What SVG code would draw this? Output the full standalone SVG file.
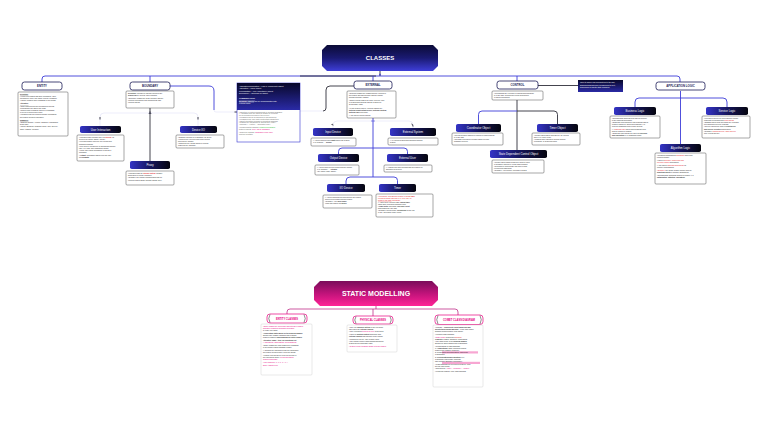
<svg xmlns="http://www.w3.org/2000/svg" width="768" height="431" viewBox="0 0 768 431">
<defs>
<linearGradient id="gHead" x1="0" y1="0" x2="0" y2="1"><stop offset="0" stop-color="#0b0b36"/><stop offset="0.5" stop-color="#1a1a72"/><stop offset="1" stop-color="#3e3ed8"/></linearGradient>
<linearGradient id="gNode" x1="0" y1="0" x2="1" y2="0"><stop offset="0" stop-color="#3434c6"/><stop offset="0.5" stop-color="#16165e"/><stop offset="1" stop-color="#05050f"/></linearGradient>
<linearGradient id="gPink" x1="0" y1="0" x2="0" y2="1"><stop offset="0" stop-color="#7a0c5a"/><stop offset="0.5" stop-color="#c0137a"/><stop offset="1" stop-color="#ff2196"/></linearGradient>
<linearGradient id="gNote" x1="0" y1="0" x2="0" y2="1"><stop offset="0" stop-color="#08082a"/><stop offset="1" stop-color="#2a2aa6"/></linearGradient>
</defs>
<style>
text{font-family:"Liberation Sans",Arial,sans-serif}
.h{font-size:6px;font-weight:bold;fill:#fff;text-anchor:middle}
.h7{font-size:7px;font-weight:bold;fill:#fff;text-anchor:middle}
.l1{fill:#fff;stroke:#1b1b55;stroke-width:0.8}
.l1t{font-size:2.8px;font-weight:bold;fill:#1b1b55;text-anchor:middle}
.n{fill:url(#gNode)}
.nt{font-size:2.8px;fill:#fff;text-anchor:middle}
.bd{fill:#fff;stroke:#3a3a3a;stroke-width:0.45}
.bs{fill:#fff;stroke:#c4c4c4;stroke-width:0.4}
.b{font-size:1.7px;fill:#2a2a2a}
.bw{font-size:1.8px;fill:#fff}
.bn{font-size:1.7px;fill:#fff}
.bg{font-size:1.7px;fill:#666}
.r{fill:#e3161b}
.p{fill:#e6007e}
.g{fill:#2db52d}
.k{font-weight:bold}
.u{text-decoration:underline}
.cb{fill:none;stroke:#3c3cd8;stroke-width:0.9}
.cd{fill:none;stroke:#2f2f3a;stroke-width:0.9}
.cf{fill:none;stroke:#d2d2f2;stroke-width:0.4}
.cp{fill:none;stroke:#b8137a;stroke-width:0.7}
.sl{fill:#fff;stroke:#e6007e;stroke-width:0.7}
.st{font-size:2.6px;font-weight:bold;fill:#e6007e;text-anchor:middle}
.br{fill:none;stroke:#222;stroke-width:0.5}
</style>
<rect width="768" height="431" fill="#fff"/>

<g id="connectors">
<path class="cb" d="M42,82 V79 Q42,76 45,76 H677 Q680,76 680,79 V82"/>
<path class="cd" d="M300,76 H376"/>
<path class="cb" d="M150,76 V82 M373,76 V81 M517,76 V81"/>
<path class="cd" d="M380,71 V76"/>
<polygon points="378.8,75.2 380,73.2 381.2,75.2" fill="#3c3cd8"/>
<path class="cd" d="M150,108 V161"/>
<polygon points="148.5,114 150,111 151.5,114" fill="#2f2f3a"/>
<path class="cb" d="M170,86 H209 Q214,86 214,91 V110"/>
<path class="cf" d="M214,110 Q214,112 216,112 H237"/>
<path class="cd" d="M234.5,112 H237.5"/>
<path class="cf" d="M150,113 H104 Q100,113 100,117 V126 M150,113 H194 Q198,113 198,117 V126"/>
<path class="cd" d="M100,117 V119.5 M198,117 V119.5"/>
<path class="cd" d="M354,86 H330 Q326,86 326,90 V108 Q326,111 323,111"/>
<path class="cf" d="M323,111 H300"/>
<path class="cb" d="M373,117 V177"/>
<path class="cb" d="M371.3,121 H374.7"/>
<path class="cf" d="M373,121 H337 Q333,121 333,125 V128 M373,121 H409 Q413,121 413,125 V128"/>
<path class="cd" d="M331.5,124.5 Q333,123.5 333,125.5 M411.5,124 Q413,124 413,126.5"/>
<path class="cb" d="M373,148 H342 Q338.5,148 338.5,151.5 V154 M373,148 H404 Q407.5,148 407.5,151.5 V154"/>
<path class="cb" d="M373,177 H350 Q346,177 346,181 V184 M373,177 H394 Q397.5,177 397.5,180.5 V184"/>
<path class="cd" d="M517,100 V150"/>
<path class="cb" d="M517,111 H482 Q478.5,111 478.5,114.5 V124"/>
<path class="cd" d="M517,111 H554 Q557.5,111 557.5,114.5 V124"/>
<path class="cd" d="M538,85.5 H578"/>
<path class="cb" d="M680.5,91 V144"/>
<path class="cb" d="M680.5,98 H639 Q635,98 635,102 V107 M680.5,98 H723 Q727,98 727,102 V107"/>
<path class="cp" d="M376,306 V309 M287,314 V312 Q287,309 290,309 H455 Q458,309 458,312 V315 M373,309 V316"/>
</g>

<g id="n-classes"><polygon points="327,45 433,45 438,50 438,66 433,71 327,71 322,66 322,50" fill="url(#gHead)"/><text class="h" x="380" y="60">CLASSES</text></g>

<g id="n-entity">
<rect class="l1" x="22" y="82" width="40" height="8" rx="2.5"/><text class="l1t" x="42" y="87">ENTITY</text>
<rect class="bd" x="18" y="92" width="50" height="44" rx="1"/>
<text class="b" x="20" y="94.5"><tspan class="k u">Definition:</tspan>
<tspan x="20" dy="2.2">• Long-lived classes that store information, often</tspan>
<tspan x="20" dy="2.2">  accessed by many use cases, typically persistent</tspan>
<tspan x="20" dy="2.2">• Usually mapped onto a database in the design</tspan>
<tspan x="20" dy="3.2" class="k u">Attributes:</tspan>
<tspan x="20" dy="2.2">• Store data and provide operations to access</tspan>
<tspan x="20" dy="2.2">  (read/update) the data in the class</tspan>
<tspan x="20" dy="2.2">• Data is often persistent: stored in a database</tspan>
<tspan x="20" dy="2.2">  or file for a long period of time</tspan>
<tspan x="20" dy="2.2">• Identified from the problem domain (information</tspan>
<tspan x="20" dy="2.2">  the system needs to remember)</tspan>
<tspan x="20" dy="3.2" class="k u">Examples:</tspan>
<tspan x="20" dy="2.2">• Banking System: Account, Customer, Transaction,</tspan>
<tspan x="20" dy="2.2">  Debit Card</tspan>
<tspan x="20" dy="2.2">• Online Shopping: Customer Order, Item, Delivery</tspan>
<tspan x="20" dy="2.2">  Order, Catalog, Inventory</tspan></text>
</g>

<g id="n-boundary">
<rect class="l1" x="130" y="82" width="40" height="8" rx="2.5"/><text class="l1t" x="150" y="87">BOUNDARY</text>
<rect class="bd" x="126" y="91" width="48" height="17" rx="1"/>
<text class="b" x="128" y="94"><tspan class="k u">Definition:</tspan> Interface to objects external to the
<tspan x="128" dy="2.3">  system (users, devices, other systems)</tspan>
<tspan x="128" dy="2.3">• Boundary classes are at the interface with the</tspan>
<tspan x="128" dy="2.3">  external environment and communicate with</tspan>
<tspan x="128" dy="2.3">  external objects</tspan></text>
</g>

<g id="n-user-interaction">
<rect class="n" x="80" y="126" width="41" height="7" rx="1.8"/><text class="nt" x="100.5" y="130.5">User Interaction</text>
<rect class="bd" x="77" y="135" width="47" height="26" rx="1"/>
<text class="b" x="79" y="138">• Interfaces with a human user via <tspan class="r k">external</tspan> I/O
<tspan x="79" dy="2.2">  devices (keyboard, display, mouse)</tspan>
<tspan x="79" dy="2.2">• Provides display screens, text, menus and</tspan>
<tspan x="79" dy="2.2">  graphical windows</tspan>
<tspan x="79" dy="2.2">• May involve a sequence of interactions with the</tspan>
<tspan x="79" dy="2.2">  user, e.g. login, then transaction details</tspan>
<tspan x="79" dy="2.2">• Input: user enters information or selects a</tspan>
<tspan x="79" dy="2.2">  command</tspan>
<tspan x="79" dy="2.2">• <tspan class="k">Output:</tspan> information displayed to the user</tspan>
<tspan x="79" dy="2.2">  and <tspan class="k">prompts</tspan></tspan></text>
</g>

<g id="n-device-io">
<rect class="n" x="180" y="126" width="37" height="7" rx="1.8"/><text class="nt" x="198.5" y="130.5">Device I/O</text>
<rect class="bd" x="176" y="135" width="48" height="13" rx="1"/>
<text class="b" x="178" y="138">• Software interface to a hardware I/O device
<tspan x="178" dy="2.1">• Input device: receives input from external</tspan>
<tspan x="178" dy="2.1">  input device (sensor)</tspan>
<tspan x="178" dy="2.1">• Output device: sends output to external</tspan>
<tspan x="178" dy="2.1">  output device (actuator)</tspan></text>
</g>

<g id="n-proxy">
<rect class="n" x="130" y="161" width="40" height="8" rx="1.8"/><text class="nt" x="150" y="166">Proxy</text>
<rect class="bd" x="126" y="171" width="48" height="14" rx="1"/>
<text class="b" x="128" y="174">• Interfaces with an <tspan class="r k">external system</tspan> (another
<tspan x="128" dy="2.2">  subsystem or remote computer)</tspan>
<tspan x="128" dy="2.2">• Example: the system communicates with an</tspan>
<tspan x="128" dy="2.2">  external system (Bank) through a Bank Proxy</tspan></text>
</g>

<g id="n-relations">
<rect x="237" y="83" width="63" height="59" fill="#fff" stroke="#3535d0" stroke-width="0.6"/>
<rect x="237" y="83" width="63" height="27" fill="url(#gNote)"/>
<text class="bw" x="239" y="86.5">Aggregation/Composition – "Has a" (Whole/Part) Object
<tspan x="239" dy="2.5">Association – "Uses" Object</tspan>
<tspan x="239" dy="2.5">Generalisation – "Is a" (Inheritance) Object</tspan>
<tspan x="239" dy="2.5">Dependency – "Depends on" Object</tspan>
<tspan x="239" dy="5" class="u k">COMMUNICATION:</tspan>
<tspan x="239" dy="2.5"><tspan class="k u">Boundary objects</tspan> are for Communication with</tspan>
<tspan x="239" dy="2.5">external world</tspan></text>
<text class="bg" x="239" y="112.5">• Objects in a system communicate by sending messages
<tspan x="239" dy="1.8">• A message from one object to another is a request</tspan>
<tspan x="239" dy="1.8">  for an operation provided by the receiver</tspan>
<tspan x="239" dy="1.8">• Messages can be synchronous or asynchronous</tspan>
<tspan x="239" dy="1.8">• Messages may carry data (input/output parameters)</tspan>
<tspan x="239" dy="1.8">• Object interaction is shown in interaction diagrams</tspan>
<tspan x="239" dy="1.8">• Classes are categorised by stereotypes «entity»,</tspan>
<tspan x="239" dy="1.8">  «boundary», «control», «application logic»</tspan>
<tspan x="239" dy="3">• Communication diagram: <tspan class="g">numbered messages</tspan></tspan>
<tspan x="239" dy="2.2">  between objects, <tspan class="p">sync / async messages</tspan></tspan>
<tspan x="239" dy="2.2">• Sequence diagram: <tspan class="p">messages in time order</tspan></tspan>
<tspan x="239" dy="2.2">  from top to bottom</tspan></text>
</g>

<g id="n-external">
<rect class="l1" x="354" y="81" width="38" height="8" rx="2.5"/><text class="l1t" x="373" y="86">EXTERNAL</text>
<rect class="bd" x="347" y="91" width="49" height="27" rx="1"/>
<text class="b" x="349" y="93.5">• External classes are classes that are external to
<tspan x="349" dy="2.1">  the system and that interface with the system</tspan>
<tspan x="349" dy="2.1">  through boundary classes</tspan>
<tspan x="349" dy="3.3">• Each external class is an actor: a device, user</tspan>
<tspan x="349" dy="2.1">  or system that interacts with the system via</tspan>
<tspan x="349" dy="2.1">  its boundary class</tspan>
<tspan x="349" dy="3.3">• In the system context, external classes are:</tspan>
<tspan x="349" dy="2.1">  <tspan class="k">External Input/Output Device, External System,</tspan></tspan>
<tspan x="349" dy="2.1">  <tspan class="k">External User</tspan> and Timer</tspan>
<tspan x="349" dy="3.3">• Also called external objects</tspan></text>
</g>

<g id="n-input-device">
<rect class="n" x="313" y="128" width="40" height="8" rx="1.8"/><text class="nt" x="333" y="133">Input Device</text>
<rect class="bd" x="311" y="138" width="45" height="8" rx="1"/>
<text class="b" x="313" y="140.5">• A device that provides <tspan class="k">input</tspan> data to the system
<tspan x="313" dy="2.2">  (e.g. sensors) → <tspan class="k">Sensor</tspan></tspan></text>
</g>

<g id="n-external-system">
<rect class="n" x="390" y="128" width="46" height="8" rx="1.8"/><text class="nt" x="413" y="133">External System</text>
<rect class="bd" x="388" y="138" width="50" height="7" rx="1"/>
<text class="b" x="390" y="140.5">• An external system that interfaces with the
<tspan x="390" dy="2.2">  system</tspan></text>
</g>

<g id="n-output-device">
<rect class="n" x="318" y="154" width="41" height="8" rx="1.8"/><text class="nt" x="338.5" y="159">Output Device</text>
<rect class="bd" x="315" y="165" width="44" height="10" rx="1"/>
<text class="b" x="317" y="167.5">• A device that receives output from the system
<tspan x="317" dy="2.2">  (e.g. actuator) → <tspan class="k">Actuator</tspan></tspan>
<tspan x="317" dy="2.2">• Ex: motor, lamp, display</tspan></text>
</g>

<g id="n-external-user">
<rect class="n" x="387" y="154" width="41" height="8" rx="1.8"/><text class="nt" x="407.5" y="159">External User</text>
<rect class="bd" x="384" y="165" width="48" height="7" rx="1"/>
<text class="b" x="386" y="167.5">• A human user who interacts with the system via
<tspan x="386" dy="2.2">  standard I/O devices</tspan></text>
</g>

<g id="n-io-device">
<rect class="n" x="327" y="184" width="38" height="8" rx="1.8"/><text class="nt" x="346" y="189">I/O Device</text>
<rect class="bd" x="323" y="195" width="49" height="13" rx="1"/>
<text class="b" x="325" y="197.5">• A device that both provides input to the system
<tspan x="325" dy="2.2">  and receives output from the system</tspan>
<tspan x="325" dy="2.2">• Example: ATM <tspan class="k">card reader</tspan></tspan>
<tspan x="325" dy="2.2">  (input and output) <tspan class="k">I/O device</tspan></tspan></text>
</g>

<g id="n-timer">
<rect class="n" x="379" y="184" width="37" height="8" rx="1.8"/><text class="nt" x="397.5" y="189">Timer</text>
<rect class="bd" x="376" y="194" width="57" height="23" rx="1"/>
<text class="b" x="378" y="196.5"><tspan class="r">• Periodically activates the system: it sends <tspan class="k">timer</tspan></tspan>
<tspan x="378" dy="2.1" class="r">  events at regular intervals (e.g. every day) to</tspan>
<tspan x="378" dy="2.1" class="r">  <tspan class="u">initiate a use case</tspan> periodically</tspan>
<tspan x="378" dy="2.1">• A timer is an external class; <tspan class="k">logical timer</tspan></tspan>
<tspan x="378" dy="2.1">  rather than a physical hardware clock</tspan>
<tspan x="378" dy="2.1"><tspan class="k">• Timer actor</tspan> generates a <tspan class="k">periodic event</tspan></tspan>
<tspan x="378" dy="2.1">  that triggers the use case</tspan>
<tspan x="378" dy="2.1">• Example: Report Timer, <tspan class="k">periodically</tspan> at the end</tspan>
<tspan x="378" dy="2.1">  of day, generates a daily report</tspan></text>
</g>

<g id="n-control">
<rect class="l1" x="497" y="81" width="41" height="8" rx="2.5"/><text class="l1t" x="517.5" y="86">CONTROL</text>
<rect class="bd" x="492" y="91" width="51" height="9" rx="1"/>
<text class="b" x="494" y="94">• Coordinates the execution of objects that participate
<tspan x="494" dy="2.1">  in a use case; provides the overall sequencing</tspan>
<tspan x="494" dy="2.1">  of object interactions</tspan></text>
</g>

<g id="n-note">
<rect x="578" y="80" width="45" height="12" fill="url(#gNote)"/>
<text class="bn" x="580" y="83.2">When to display how and what info to the user,
<tspan x="580" dy="2.4">Enforcing business rules, deciding how to do it;</tspan>
<tspan x="580" dy="2.4">Sequencing of objects (state machines)</tspan></text>
</g>

<g id="n-coordinator">
<rect class="n" x="456" y="124" width="45" height="8" rx="1.8"/><text class="nt" x="478.5" y="129">Coordinator Object</text>
<rect class="bd" x="452" y="133" width="51" height="12" rx="1"/>
<text class="b" x="454" y="135.5">• Overall decision-making of a group of related objects
<tspan x="454" dy="2.1">  in a use case</tspan>
<tspan x="454" dy="2.1">• Not state-dependent: decision based on input</tspan>
<tspan x="454" dy="2.1">  message received</tspan></text>
</g>

<g id="n-timer-object">
<rect class="n" x="537" y="124" width="41" height="8" rx="1.8"/><text class="nt" x="557.5" y="129">Timer Object</text>
<rect class="bd" x="532" y="133" width="48" height="12" rx="1"/>
<text class="b" x="534" y="135.5">• Control object that is activated by an external
<tspan x="534" dy="2.1">  timer (e.g. clock event)</tspan>
<tspan x="534" dy="2.1">• Triggers other objects to perform actions</tspan>
<tspan x="534" dy="2.1">  periodically or at specific times</tspan></text>
</g>

<g id="n-state-control">
<rect class="n" x="490" y="150" width="57" height="8" rx="1.8"/><text class="nt" x="518.5" y="155">State Dependent Control Object</text>
<rect class="bd" x="492" y="160" width="52" height="13" rx="1"/>
<text class="b" x="494" y="162.5">• Control object whose behaviour varies in each
<tspan x="494" dy="2.1">  of its states, defined by a finite state machine</tspan>
<tspan x="494" dy="2.1">• Depends on current state and input events;</tspan>
<tspan x="494" dy="2.1">  executes the statechart</tspan>
<tspan x="494" dy="2.1">• Example: ATM Control, Microwave Control</tspan></text>
</g>

<g id="n-app-logic">
<rect class="l1" x="656" y="82" width="49" height="8" rx="2.5"/><text class="l1t" x="680.5" y="87">APPLICATION LOGIC</text>
</g>

<g id="n-business-logic">
<rect class="n" x="614" y="107" width="42" height="8" rx="1.8"/><text class="nt" x="635" y="112">Business Logic</text>
<rect class="bd" x="610" y="116" width="50" height="22" rx="1"/>
<text class="b" x="612" y="119">• Encapsulates business rules that are specific
<tspan x="612" dy="2.1">  to the business application</tspan>
<tspan x="612" dy="2.1">• Business rules determine how business data is</tspan>
<tspan x="612" dy="2.1">  created, displayed, stored and changed, e.g.</tspan>
<tspan x="612" dy="2.1">  rules for withdrawal from a bank account</tspan>
<tspan x="612" dy="2.1">• A <tspan class="r">business logic</tspan> object hides business rules</tspan>
<tspan x="612" dy="2.1">  that are subject to change</tspan>
<tspan x="612" dy="2.1">• Business logic objects are used for <tspan class="k">checking</tspan></tspan>
<tspan x="612" dy="2.1">  <tspan class="k">and calculation</tspan> (e.g. withdrawal limits)</tspan></text>
</g>

<g id="n-service-logic">
<rect class="n" x="706" y="107" width="42" height="8" rx="1.8"/><text class="nt" x="727" y="112">Service Logic</text>
<rect class="bd" x="702" y="116" width="48" height="22" rx="1"/>
<text class="b" x="704" y="119">• Provides a service for client objects; typically
<tspan x="704" dy="2.1">  responds to requests from <tspan class="r">client objects</tspan></tspan>
<tspan x="704" dy="2.1">• <tspan class="k">Service</tspan> object does not initiate any requests</tspan>
<tspan x="704" dy="2.1">  but responds to service requests</tspan>
<tspan x="704" dy="2.1">• Service objects are used in <tspan class="k">client/server</tspan></tspan>
<tspan x="704" dy="2.1">  <tspan class="k">and service-oriented</tspan> architectures</tspan>
<tspan x="704" dy="2.1">• Example: <tspan class="r">Catalog Service, Order Service</tspan></tspan>
<tspan x="704" dy="2.1">  and Account Service</tspan></text>
</g>

<g id="n-algorithm-logic">
<rect class="n" x="660" y="144" width="41" height="8" rx="1.8"/><text class="nt" x="680.5" y="149">Algorithm Logic</text>
<rect class="bd" x="655" y="153" width="51" height="31" rx="1"/>
<text class="b" x="657" y="155.5">• Contains computational <tspan class="r">algorithms</tspan> used in the
<tspan x="657" dy="2.5">  problem domain</tspan>
<tspan x="657" dy="2.5">• Used in <tspan class="r">scientific, engineering and</tspan></tspan>
<tspan x="657" dy="2.5">  <tspan class="r">real-time control</tspan> applications</tspan>
<tspan x="657" dy="2.5">• Also used in <tspan class="r">business applications</tspan> for</tspan>
<tspan x="657" dy="2.5">  complex computations</tspan>
<tspan x="657" dy="2.5"><tspan class="r">• Example:</tspan> the Cruise Control system uses an</tspan>
<tspan x="657" dy="2.5">  <tspan class="k">algorithm object</tspan> to compute adjustments</tspan>
<tspan x="657" dy="2.5">• Encapsulates algorithms subject to change, e.g.</tspan>
<tspan x="657" dy="2.5">  <tspan class="k">optimisation</tspan>, <tspan class="k">statistics</tspan>, <tspan class="k">navigation</tspan></tspan></text>
</g>

<g id="n-static">
<polygon points="320,281 432,281 438,287 438,300 432,306 320,306 314,300 314,287" fill="url(#gPink)"/>
<text class="h7" x="376" y="296">STATIC MODELLING</text>
</g>

<g id="n-entity-classes">
<rect class="sl" x="267" y="314" width="40" height="9" rx="3"/>
<path class="br" d="M270,314.5 Q267.5,318.5 270,322.5 M304,314.5 Q306.5,318.5 304,322.5"/>
<text class="st" x="287" y="319.5">ENTITY CLASSES</text>
<rect class="bs" x="261" y="324" width="51" height="51" rx="1"/>
<text class="b" x="263" y="327"><tspan class="p">• Entity classes are conceptual data-intensive classes</tspan>
<tspan x="263" dy="2.1" class="p">  that store persistent information accessed</tspan>
<tspan x="263" dy="2.1">  by many use cases</tspan>
<tspan x="263" dy="3">• <tspan class="k">Conceptual static model of the problem domain</tspan>:</tspan>
<tspan x="263" dy="2.1">  shows entity classes, attributes and relations</tspan>
<tspan x="263" dy="2.1">  between classes; <tspan class="k">class diagram for entity classes</tspan></tspan>
<tspan x="263" dy="2.1" class="k">  Attributes: name : type, no operations yet</tspan>
<tspan x="263" dy="2.1" class="p">• Associations, aggregations, generalisations</tspan>
<tspan x="263" dy="3">• Entity classes are often mapped to a database</tspan>
<tspan x="263" dy="2.1">  in the design (logical database design)</tspan>
<tspan x="263" dy="3">• Attributes are determined from the information</tspan>
<tspan x="263" dy="2.1">  the system needs to store; types are shown</tspan>
<tspan x="263" dy="3">• Primary and foreign keys are not needed in</tspan>
<tspan x="263" dy="2.1">  the conceptual model; <tspan class="p">no implementation</tspan></tspan>
<tspan x="263" dy="2.1">  <tspan class="p">details at this stage</tspan></tspan>
<tspan x="263" dy="3" class="p">• Use multiplicity: 1, 0..1, 1..*, 0..*</tspan>
<tspan x="263" dy="2.5" class="p">  Entity    Attribute    Type</tspan></text>
</g>

<g id="n-physical-classes">
<rect class="sl" x="353" y="316" width="40" height="8" rx="3"/>
<path class="br" d="M356,316.5 Q353.5,320 356,323.5 M390,316.5 Q392.5,320 390,323.5"/>
<text class="st" x="373" y="321">PHYSICAL CLASSES</text>
<rect class="bs" x="347" y="325" width="50" height="27" rx="1"/>
<text class="b" x="349" y="327.5">• They are <tspan class="k">physical entities</tspan> of the real world;
<tspan x="349" dy="2.1">  also called the <tspan class="k">external classes</tspan></tspan>
<tspan x="349" dy="2.1">• They represent <tspan class="p">physical devices</tspan> of the world</tspan>
<tspan x="349" dy="3">• Used for <tspan class="k">system context</tspan> modelling, with</tspan>
<tspan x="349" dy="2.1">  <tspan class="k">external classes</tspan> that interface to the system</tspan>
<tspan x="349" dy="3">• Categories: device, user, system, timer</tspan>
<tspan x="349" dy="2.1">• The system context class diagram shows the</tspan>
<tspan x="349" dy="2.1">  system as one aggregate class</tspan>
<tspan x="349" dy="2.6" class="p">• System context diagram shows external classes</tspan></text>
</g>

<g id="n-comet">
<rect class="sl" x="435" y="315" width="48" height="9.5" rx="3"/>
<path class="br" d="M438,315.5 Q435.5,319.7 438,324 M480,315.5 Q482.5,319.7 480,324"/>
<text class="st" x="459" y="320.8">COMET CLASS DIAGRAM</text>
<rect class="bs" x="433" y="325" width="50" height="62" rx="1"/>
<rect x="442" y="351.3" width="36" height="2.2" fill="#f7a6d2"/>
<rect x="442" y="361.8" width="38" height="2.2" fill="#f7a6d2"/>
<text class="b" x="435" y="327.5">• COMET – <tspan class="k">Concurrent Object Modelling and</tspan>
<tspan x="435" dy="2.1">  <tspan class="k">architectural design mEThod</tspan> – a use case based</tspan>
<tspan x="435" dy="2.1">  software design method (UML based)</tspan>
<tspan x="435" dy="3">• Includes class diagrams</tspan>
<tspan x="435" dy="3">• <tspan class="p">Static model</tspan> defines the <tspan class="r">structural</tspan></tspan>
<tspan x="435" dy="2.1">  <tspan class="k">elements</tspan>: classes, attributes, relationships</tspan>
<tspan x="435" dy="2.1">• The static model of the <tspan class="k">problem domain</tspan></tspan>
<tspan x="435" dy="2.1">  shows real-world classes and relationships</tspan>
<tspan x="435" dy="3">• Relationships in class diagrams:</tspan>
<tspan x="435" dy="2.1">  1) <tspan class="k">Associations</tspan>: static, structural relation</tspan>
<tspan x="435" dy="2.1">     between two classes; multiplicity</tspan>
<tspan x="435" dy="2.1">  2) Composition and aggregation: whole/part</tspan>
<tspan x="435" dy="2.1">     relationships</tspan>
<tspan x="435" dy="2.1">  3) <tspan class="k">Generalisation/Specialisation</tspan>: is-a</tspan>
<tspan x="435" dy="2.1">     relationship; superclass / subclass</tspan>
<tspan x="435" dy="2.1">     with common attributes (inheritance)</tspan>
<tspan x="435" dy="3">• Class diagrams are developed iteratively from</tspan>
<tspan x="435" dy="2.1">  the use case model</tspan>
<tspan x="435" dy="2.1">• Stereotypes: <tspan class="p">«entity», «boundary», «control»</tspan></tspan>
<tspan x="435" dy="3">• Modelling notation: UML class diagrams</tspan></text>
</g>
</svg>
